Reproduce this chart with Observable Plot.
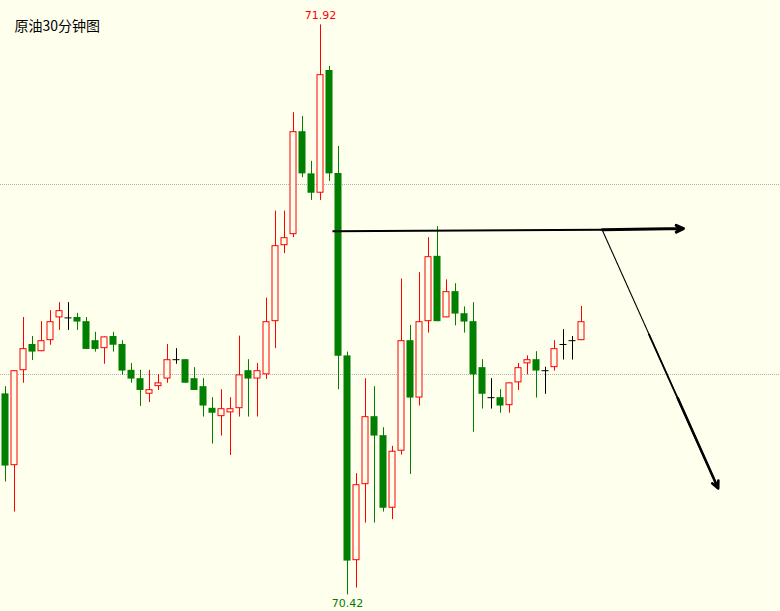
<!DOCTYPE html>
<html>
<head>
<meta charset="utf-8">
<script src="https://cdn.jsdelivr.net/npm/d3@7"></script>
<script src="https://cdn.jsdelivr.net/npm/@observablehq/plot@0.6"></script>
<style>
  html, body { margin: 0; padding: 0; background: #ffffee; }
  #chart svg { display: block; }
</style>
</head>
<body>
<div id="chart"></div>
<script>
const title = "原油30分钟图";
const opens  = [70.949,70.760,71.010,71.079,71.060,71.089,71.149,71.149,71.150,71.139,71.089,71.068,71.100,71.079,71.011,70.989,70.948,70.968,70.988,71.039,71.039,70.989,70.968,70.911,70.889,70.899,70.910,71.010,70.988,70.999,71.139,71.339,71.368,71.639,71.528,71.477,71.800,71.529,71.049,70.510,70.710,70.889,70.839,70.648,70.798,71.089,70.938,71.139,71.311,71.149,71.218,71.160,71.139,71.018,70.939,70.939,70.918,70.978,71.028,71.039,71.010,71.018,71.079,71.089,71.089];
const highs  = [70.968,71.010,71.150,71.100,71.139,71.168,71.189,71.189,71.161,71.150,71.111,71.099,71.111,71.089,71.029,71.011,71.011,71.000,71.079,71.068,71.039,71.018,70.989,70.939,70.960,70.939,71.101,71.039,71.029,71.201,71.430,71.430,71.689,71.679,71.561,71.920,71.811,71.600,71.059,70.739,70.989,70.968,70.860,70.811,71.251,71.129,71.268,71.360,71.389,71.249,71.239,71.178,71.189,71.039,70.989,70.960,70.978,71.029,71.049,71.060,71.019,71.089,71.118,71.100,71.179];
const lows   = [70.717,70.638,70.977,71.037,71.060,71.077,71.116,71.116,71.116,71.066,71.059,71.027,71.059,70.998,70.977,70.916,70.926,70.958,70.977,71.027,70.977,70.958,70.888,70.817,70.838,70.787,70.888,70.888,70.888,70.987,71.068,71.318,71.360,71.518,71.458,71.458,71.508,70.960,70.420,70.438,70.609,70.609,70.638,70.618,70.788,70.737,70.917,71.109,71.139,71.149,71.128,71.109,70.848,70.909,70.909,70.898,70.898,70.958,70.999,70.938,70.948,71.009,71.038,71.038,71.089];
const closes = [70.759,71.010,71.068,71.059,71.089,71.139,71.168,71.149,71.138,71.066,71.066,71.099,71.077,71.009,70.988,70.958,70.960,70.978,71.039,71.039,70.977,70.958,70.917,70.898,70.910,70.910,70.999,70.988,71.010,71.139,71.339,71.360,71.639,71.528,71.477,71.789,71.528,71.048,70.509,70.710,70.889,70.838,70.648,70.798,71.089,70.938,71.139,71.310,71.139,71.218,71.159,71.138,70.999,70.948,70.939,70.917,70.978,71.018,71.039,71.009,71.010,71.068,71.079,71.089,71.139];
const gridPrices = [71.5, 71.0];
const highLabel = {i: 35, price: 71.92, text: "71.92"};
const lowLabel  = {i: 38, price: 70.42, text: "70.42"};
// annotation arrows in (candle index, price)
const arrowLinks = [
  {x1: 36.33, y1: 71.377, x2: 66.30, y2: 71.381, w: 2},
  {x1: 66.33, y1: 71.379, x2: 79.19, y2: 70.700, w: 1.1},
  {x1: 71.47, y1: 71.107, x2: 79.19, y2: 70.700, w: 1.8}
];
const arrowHeads = [
  {x1: 66.30, y1: 71.381, x2: 75.33, y2: 71.384, w: 3},
  {x1: 74.69, y1: 70.938, x2: 79.19, y2: 70.700, w: 2.6}
];

const RED = "#ff0000", GREEN = "#007f00", BG = "#ffffee";
const half = 3.5 / 9;
const candles = opens.map((o, i) => ({
  i, open: o, high: highs[i], low: lows[i], close: closes[i],
  color: closes[i] > o ? RED : closes[i] < o ? GREEN : "#000000"
}));
const ups = candles.filter(d => d.close > d.open);
const downs = candles.filter(d => d.close < d.open);
const dojis = candles.filter(d => d.close === d.open);

const chart = Plot.plot({
  width: 780,
  height: 611,
  margin: 0,
  style: {background: BG, overflow: "visible"},
  x: {type: "linear", domain: [-5 / 9, 775 / 9], range: [0, 780], axis: null},
  y: {type: "linear", domain: [70.37632, 71.98421], range: [611, 0], axis: null},
  marks: [
    Plot.ruleY(gridPrices, {stroke: "#b0b0b0", strokeDasharray: "1,1", strokeWidth: 1}),
    Plot.ruleX(candles, {x: "i", y1: "low", y2: "high", stroke: "color", strokeWidth: 1}),
    Plot.rect(downs, {x1: d => d.i - half, x2: d => d.i + half, y1: "open", y2: "close", fill: GREEN}),
    Plot.rect(ups, {x1: d => d.i - half, x2: d => d.i + half, y1: "open", y2: "close", fill: BG, stroke: RED, strokeWidth: 1, inset: 0.5}),
    Plot.ruleY(dojis, {y: "open", x1: d => d.i - half, x2: d => d.i + half, stroke: "#000000", strokeWidth: 1}),
    Plot.link(arrowLinks, {x1: "x1", y1: "y1", x2: "x2", y2: "y2", stroke: "#000", strokeWidth: d => d.w}),
    Plot.arrow(arrowHeads, {x1: "x1", y1: "y1", x2: "x2", y2: "y2", stroke: "#000", strokeWidth: d => d.w, headLength: 12, headAngle: 50}),
    Plot.text([highLabel], {x: "i", y: "price", text: "text", dy: -9, fill: RED, fontSize: 11, fontFamily: "DejaVu Sans", lineAnchor: "middle"}),
    Plot.text([lowLabel], {x: "i", y: "price", text: "text", dy: 9, fill: GREEN, fontSize: 11, fontFamily: "DejaVu Sans", lineAnchor: "middle"}),
    Plot.text([title], {frameAnchor: "top-left", dx: 14, dy: 26, textAnchor: "start", lineAnchor: "middle", fontSize: 14, fontFamily: "Noto Sans CJK SC", fill: "#000"})
  ]
});
document.getElementById("chart").appendChild(chart);
</script>
</body>
</html>
